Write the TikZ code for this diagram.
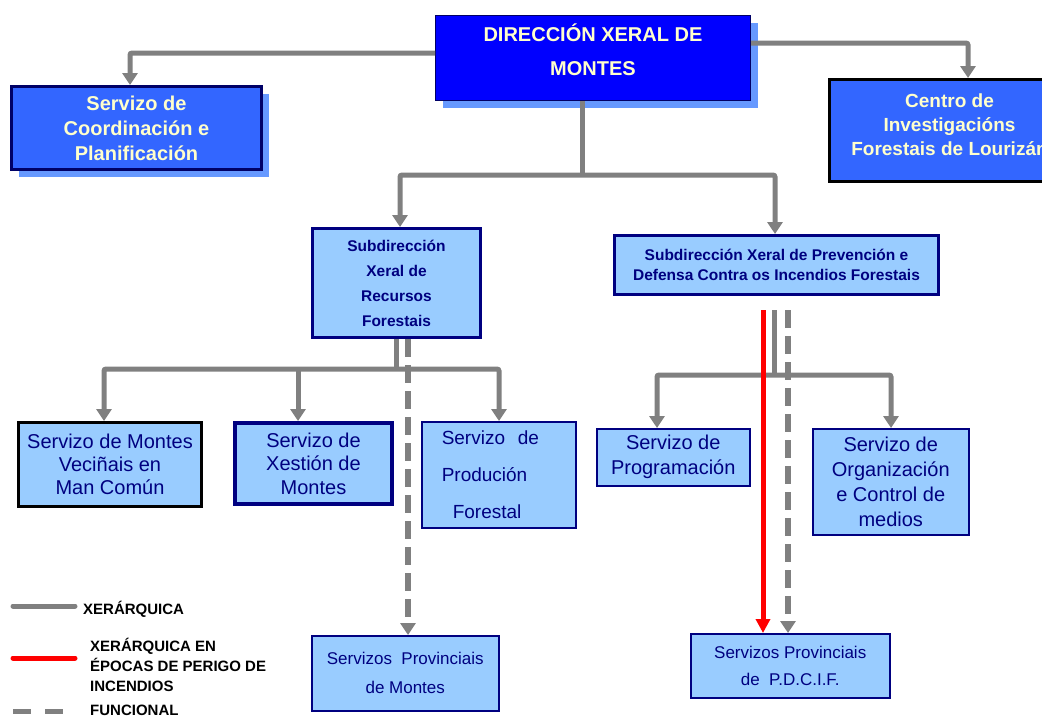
\documentclass[tikz,border=0pt]{standalone}
\usepackage{fontspec}
\setmainfont{Liberation Sans}
\usetikzlibrary{arrows.meta,shadows,calc}
\definecolor{dblue}{HTML}{0000FF}
\definecolor{mblue}{HTML}{3366FF}
\definecolor{lblue}{HTML}{99CCFF}
\definecolor{sblue}{HTML}{6699FF}
\definecolor{navy}{HTML}{000080}
\definecolor{dnavy}{HTML}{000066}
\definecolor{cream}{HTML}{FFFFCC}
\definecolor{lgray}{HTML}{808080}
\definecolor{fred}{HTML}{FF0000}
\begin{document}
\begin{tikzpicture}[x=1pt,y=-1pt,
  box/.style={anchor=north west, inner sep=1pt, align=center},
  lbox/.style={box, fill=lblue, draw=navy, text=navy},
  shad/.style={general shadow={shadow xshift=7pt, shadow yshift=-7pt, fill=sblue}},
  hier/.style={draw=lgray, line width=5pt, rounded corners=2pt},
  arr/.style={-{Triangle[width=15pt,length=12pt]}},
  arrs/.style={{Triangle[width=15pt,length=12pt]}-{Triangle[width=15pt,length=12pt]}},
  func/.style={draw=lgray, line width=6pt, dash pattern=on 18pt off 8pt},
  redl/.style={draw=fred, line width=5pt},
  legtext/.style={anchor=west, align=left, inner sep=0pt, font=\fontsize{15}{20}\selectfont\bfseries}
]
\useasboundingbox (0,0) rectangle (1042,718);

% boxes
\node[box, shad, fill=dblue, draw=dnavy, line width=1pt, text=cream,
  minimum width=315pt, minimum height=85pt, text depth=17pt,
  font=\fontsize{20}{34}\selectfont\bfseries] (dxm) at (435,15)
  {DIRECCIÓN XERAL DE\\MONTES};
\node[box, shad, fill=mblue, draw=dnavy, line width=3pt, text=cream,
  minimum width=250pt, minimum height=83pt,
  font=\fontsize{20}{25}\selectfont\bfseries] (coord) at (10,85)
  {Servizo de\\Coordinación e\\Planificación};
\node[box, fill=mblue, draw=black, line width=3pt, text=cream,
  minimum width=240pt, minimum height=102pt, text depth=12pt,
  font=\fontsize{19}{24}\selectfont\bfseries] (centro) at (828,78)
  {Centro de\\Investigacións\\Forestais de Lourizán};
\node[lbox, line width=3pt, minimum width=168pt, minimum height=109pt,
  font=\fontsize{15.5}{25}\selectfont\bfseries] (sub1) at (311,227)
  {Subdirección\\Xeral de\\Recursos\\Forestais};
\node[lbox, line width=3pt, minimum width=324pt, minimum height=59pt,
  font=\fontsize{15.5}{20}\selectfont\bfseries] (sub2) at (613,234)
  {Subdirección Xeral de Prevención e\\Defensa Contra os Incendios Forestais};
\node[lbox, draw=black, line width=3pt, minimum width=183pt, minimum height=84pt,
  font=\fontsize{20}{23}\selectfont] (vec) at (17,421)
  {Servizo de Montes\\Veciñais en\\Man Común};
\node[lbox, line width=4pt, minimum width=157pt, minimum height=81pt,
  font=\fontsize{20}{23.5}\selectfont] (xes) at (233,421)
  {Servizo de\\Xestión de\\Montes};
\node[lbox, line width=1.5pt, minimum width=154pt, minimum height=106pt,
  text width=114pt, inner xsep=20pt, align=left,
  font=\fontsize{19}{37}\selectfont] (prod) at (421,421)
  {Servizo~~de\\Produción\\\hspace*{11pt}Forestal};
\node[lbox, line width=1.5pt, minimum width=153pt, minimum height=57pt,
  font=\fontsize{20}{25}\selectfont] (prog) at (596,428)
  {Servizo de\\Programación};
\node[lbox, line width=1.5pt, minimum width=156pt, minimum height=106pt,
  font=\fontsize{20}{25}\selectfont] (org) at (812,428)
  {Servizo de\\Organización\\e Control de\\medios};
\node[lbox, line width=1.5pt, minimum width=187pt, minimum height=75pt,
  font=\fontsize{17}{29}\selectfont] (provm) at (311,635)
  {Servizos~~Provinciais\\de Montes};
\node[lbox, line width=1.5pt, minimum width=199pt, minimum height=64pt,
  font=\fontsize{17}{27}\selectfont] (pdcif) at (690,633)
  {Servizos Provinciais\\de~~P.D.C.I.F.};

% junction coordinates
\coordinate (jL) at (130,53);
\coordinate (jR) at (968,43);
\coordinate (jM) at (582,175);
\coordinate (jM1) at (400,175);
\coordinate (jM2) at (775,175);
\coordinate (k) at (396,369);
\coordinate (k1) at (104,369);
\coordinate (k2) at (298,369);
\coordinate (k3) at (499,369);
\coordinate (f1) at (408,369);
\coordinate (m0) at (774,310);
\coordinate (m) at (774,375);
\coordinate (m1) at (657,375);
\coordinate (m2) at (891,375);
\coordinate (r0) at (763,310);
\coordinate (g0) at (788,310);

% connectors
\draw[hier, arr] (jL -| dxm.west) -- (jL) -- (jL |- coord.north);
\draw[hier, arr] (jR -| dxm.east) -- (jR) -- (jR |- centro.north);
\draw[hier] (jM |- dxm.south) -- (jM);
\draw[hier, arrs] (jM1 |- sub1.north) -- (jM1) -- (jM2) -- (jM2 |- sub2.north);
\draw[hier] (k |- sub1.south) -- (k);
\draw[hier, arrs] (k1 |- vec.north) -- (k1) -- (k3) -- (k3 |- prod.north);
\draw[hier, arr] (k2) -- (k2 |- xes.north);
\draw[func, arr] (f1 |- sub1.south) -- (f1 |- provm.north);
\draw[hier] (m0) -- (m);
\draw[hier, arrs] (m1 |- prog.north) -- (m1) -- (m2) -- (m2 |- org.north);
\draw[func, arr] (g0) -- (g0 |- pdcif.north);
\draw[redl, -{Triangle[width=14pt,length=14pt]}] (r0) -- (r0 |- pdcif.north);

% legend
\coordinate (la1) at (13,606);
\coordinate (la2) at (75,606);
\coordinate (lb1) at (13,658);
\coordinate (lb2) at (75,658);
\coordinate (lc1) at (13,711);
\coordinate (lc2) at (68,711);
\draw[draw=lgray, line width=5pt, line cap=round] (la1) -- (la2);
\draw[redl, line cap=round] (lb1) -- (lb2);
\draw[draw=lgray, line width=5pt, dash pattern=on 18pt off 14pt] (lc1) -- (lc2);
\node[legtext] (t1) at (83,609) {XERÁRQUICA};
\node[legtext] (t2) at (90,665) {XERÁRQUICA EN\\ÉPOCAS DE PERIGO DE\\INCENDIOS};
\node[legtext] (t3) at (90,710) {FUNCIONAL};
\end{tikzpicture}
\end{document}
